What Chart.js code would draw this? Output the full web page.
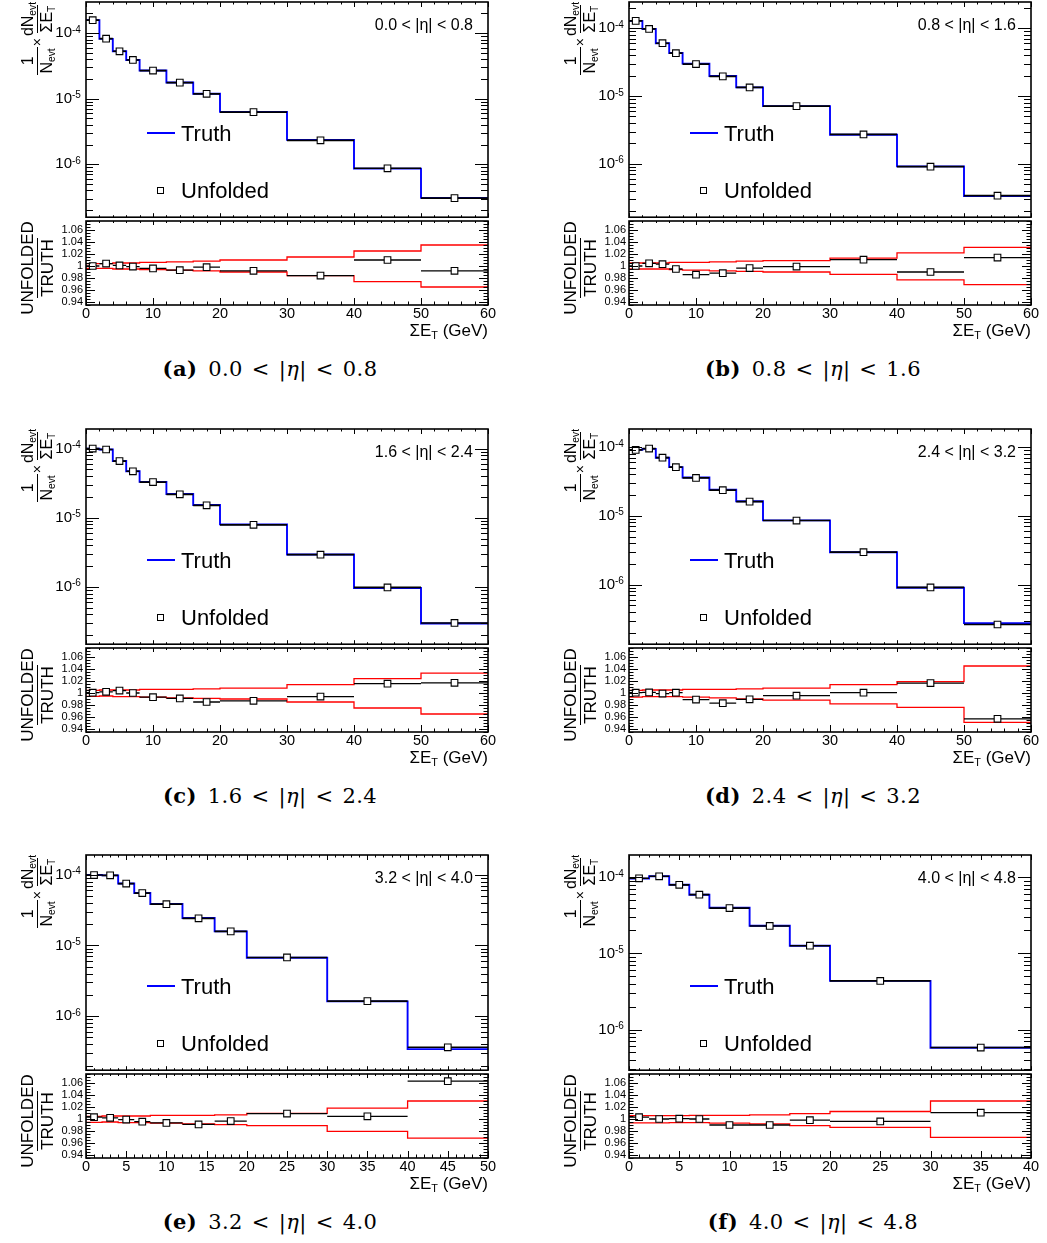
<!DOCTYPE html>
<html>
<head>
<meta charset="utf-8">
<title>Unfolded sum ET spectra</title>
<script src="https://cdn.jsdelivr.net/npm/chart.js@4.4.1/dist/chart.umd.min.js"></script>
<style>
  body { margin: 0; background: #fff; }
  #page { position: relative; width: 1047px; height: 1243px; overflow: hidden; background: #fff;
          font-family: 'Liberation Sans', Arial, Helvetica, sans-serif; color: #000; }
  .txt { position: absolute; white-space: nowrap; line-height: 1; }
  .rot { position: absolute; transform-origin: 0 0; transform: rotate(-90deg); display: flex;
         align-items: center; white-space: nowrap; line-height: 1; }
  .frac { display: inline-flex; flex-direction: column; align-items: center; line-height: 1; }
  .frac > span:first-child { padding: 0 1px 1px; }
  .frac > span:last-child { border-top: 1.5px solid #000; padding: 1px 1px 0; }
  sub { font-size: 0.64em; vertical-align: -0.28em; line-height: 0; }
  .caption { position: absolute; white-space: nowrap; transform: translate(-50%, -50%);
             font-family: 'DejaVu Serif', 'Liberation Serif', serif; font-size: 21px; line-height: 1;
             letter-spacing: 0.4px; }
  .caption .rel { margin: 0 9px; }
</style>
</head>
<body>
<div id="page"></div>
<script>
// bin edges (GeV)
const edges60 = [0, 2, 4, 6, 8, 12, 16, 20, 30, 40, 50, 60];
const edges50 = [0, 2, 4, 6, 8, 12, 16, 20, 30, 40, 50];
const edges40 = [0, 2, 4, 6, 8, 12, 16, 20, 30, 40];

const etaRanges = ['0.0 < |η| < 0.8', '0.8 < |η| < 1.6', '1.6 < |η| < 2.4',
                   '2.4 < |η| < 3.2', '3.2 < |η| < 4.0', '4.0 < |η| < 4.8'];
const panelTags = ['(a)', '(b)', '(c)', '(d)', '(e)', '(f)'];

// 1/Nevt dNevt/dSumET, truth and unfolded
const truthA    = [1.58e-4, 8.2e-5, 5.3e-5, 3.9e-5, 2.7e-5, 1.77e-5, 1.19e-5, 6.3e-6, 2.36e-6, 8.6e-7, 3.07e-7];
const unfoldedA = [1.58e-4, 8.25e-5, 5.3e-5, 3.9e-5, 2.69e-5, 1.76e-5, 1.19e-5, 6.25e-6, 2.32e-6, 8.7e-7, 3.05e-7];
const truthB    = [1.28e-4, 9.7e-5, 6.0e-5, 4.3e-5, 3.0e-5, 1.97e-5, 1.34e-5, 7.1e-6, 2.69e-6, 9.2e-7, 3.35e-7];
const unfoldedB = [1.28e-4, 9.75e-5, 6.0e-5, 4.28e-5, 2.96e-5, 1.95e-5, 1.34e-5, 7.1e-6, 2.72e-6, 9.1e-7, 3.4e-7];
const truthC    = [1.0e-4, 9.7e-5, 6.6e-5, 4.7e-5, 3.3e-5, 2.2e-5, 1.53e-5, 8.0e-6, 2.93e-6, 9.6e-7, 2.95e-7];
const unfoldedC = [1.0e-4, 9.7e-5, 6.6e-5, 4.7e-5, 3.28e-5, 2.18e-5, 1.51e-5, 7.9e-6, 2.92e-6, 9.8e-7, 3.0e-7];
const truthD    = [9.1e-5, 9.4e-5, 7.0e-5, 5.1e-5, 3.6e-5, 2.4e-5, 1.63e-5, 8.6e-6, 2.96e-6, 9.0e-7, 2.75e-7];
const unfoldedD = [9.1e-5, 9.5e-5, 7.0e-5, 5.1e-5, 3.56e-5, 2.36e-5, 1.61e-5, 8.55e-6, 2.96e-6, 9.1e-7, 2.63e-7];
const truthE    = [9.9e-5, 9.8e-5, 7.5e-5, 5.5e-5, 3.85e-5, 2.44e-5, 1.58e-5, 6.7e-6, 1.62e-6, 3.42e-7];
const unfoldedE = [9.9e-5, 9.8e-5, 7.5e-5, 5.5e-5, 3.83e-5, 2.42e-5, 1.58e-5, 6.75e-6, 1.63e-6, 3.63e-7];
const truthF    = [9.6e-5, 1.03e-4, 7.96e-5, 5.9e-5, 3.97e-5, 2.31e-5, 1.26e-5, 4.35e-6, 5.75e-7];
const unfoldedF = [9.7e-5, 1.03e-4, 7.96e-5, 5.9e-5, 3.94e-5, 2.29e-5, 1.26e-5, 4.34e-6, 5.8e-7];

// unfolded / truth
const ratioA = [1.000, 1.004, 1.001, 0.999, 0.996, 0.993, 0.998, 0.992, 0.984, 1.010, 0.992];
const ratioB = [1.000, 1.0045, 1.003, 0.995, 0.9855, 0.988, 0.9965, 0.999, 1.0105, 0.990, 1.014];
const ratioC = [1.0005, 1.002, 1.004, 1.000, 0.993, 0.991, 0.985, 0.987, 0.994, 1.0155, 1.017];
const ratioD = [1.0005, 1.001, 0.999, 1.0005, 0.989, 0.983, 0.9895, 0.9955, 1.0005, 1.0165, 0.957];
const ratioE = [1.003, 1.002, 0.999, 0.9955, 0.9935, 0.991, 0.9965, 1.009, 1.0045, 1.063];
const ratioF = [1.003, 1.000, 1.0005, 1.000, 0.990, 0.990, 0.998, 0.996, 1.0105];

// red uncertainty band, upper and lower edge
const bandHiA = [1.004, 1.004, 1.005, 1.005, 1.006, 1.007, 1.008, 1.010, 1.015, 1.025, 1.035];
const bandLoA = [0.996, 0.996, 0.995, 0.995, 0.994, 0.993, 0.992, 0.990, 0.984, 0.974, 0.965];
const bandHiB = [1.005, 1.005, 1.005, 1.006, 1.006, 1.007, 1.008, 1.009, 1.013, 1.022, 1.031];
const bandLoB = [0.995, 0.995, 0.995, 0.994, 0.993, 0.992, 0.991, 0.990, 0.986, 0.977, 0.969];
const bandHiC = [1.0045, 1.005, 1.005, 1.005, 1.006, 1.006, 1.007, 1.008, 1.014, 1.024, 1.033];
const bandLoC = [0.9945, 0.995, 0.994, 0.994, 0.993, 0.992, 0.991, 0.990, 0.985, 0.975, 0.965];
const bandHiD = [1.0045, 1.005, 1.005, 1.005, 1.006, 1.006, 1.007, 1.008, 1.014, 1.019, 1.045];
const bandLoD = [0.993, 0.994, 0.994, 0.994, 0.993, 0.992, 0.990, 0.988, 0.982, 0.976, 0.951];
const bandHiE = [1.0045, 1.005, 1.005, 1.005, 1.006, 1.006, 1.007, 1.0095, 1.018, 1.030];
const bandLoE = [0.9945, 0.995, 0.994, 0.994, 0.993, 0.992, 0.9905, 0.989, 0.9795, 0.968];
const bandHiF = [1.0055, 1.0055, 1.0055, 1.006, 1.006, 1.007, 1.009, 1.0125, 1.030];
const bandLoF = [0.9935, 0.9935, 0.994, 0.994, 0.993, 0.992, 0.989, 0.986, 0.9695];

// axis ranges and tick labels
const yMinMain = [1.56e-7, 1.64e-7, 1.48e-7, 1.36e-7, 1.72e-7, 2.92e-7];
const yMaxMain = [2.99e-4, 2.43e-4, 1.92e-4, 1.83e-4, 1.90e-4, 1.96e-4];
const mainTickValues = [1e-6, 1e-5, 1e-4];
const mainTickBase = '10';
const mainTickExponents = ['-6', '-5', '-4'];
const ratioTickValues = [0.94, 0.96, 0.98, 1, 1.02, 1.04, 1.06];
const ratioTickLabels = ['0.94', '0.96', '0.98', '1', '1.02', '1.04', '1.06'];
const ratioMin = 0.935, ratioMax = 1.075;
const xMaxList = [60, 60, 60, 60, 50, 40];
const xStepList = [10, 10, 10, 10, 5, 5];
const xMinorList = [2, 2, 2, 2, 1, 1];

const panels = [
  { edges: edges60, truth: truthA, unfolded: unfoldedA, ratio: ratioA, hi: bandHiA, lo: bandLoA },
  { edges: edges60, truth: truthB, unfolded: unfoldedB, ratio: ratioB, hi: bandHiB, lo: bandLoB },
  { edges: edges60, truth: truthC, unfolded: unfoldedC, ratio: ratioC, hi: bandHiC, lo: bandLoC },
  { edges: edges60, truth: truthD, unfolded: unfoldedD, ratio: ratioD, hi: bandHiD, lo: bandLoD },
  { edges: edges50, truth: truthE, unfolded: unfoldedE, ratio: ratioE, hi: bandHiE, lo: bandLoE },
  { edges: edges40, truth: truthF, unfolded: unfoldedF, ratio: ratioF, hi: bandHiF, lo: bandLoF }
];

const FONT = "'Liberation Sans', Arial, Helvetica, sans-serif";
Chart.defaults.font.family = FONT;
Chart.defaults.color = '#000';

const page = document.getElementById('page');
const colLeft = [86, 629];
const rowTop = [2, 429, 855];
const FW = 402, MH = 219, RH = 84, AX = 60, PR = 16, PT = 8;

// histogram helpers
function steps(edges, vals) {
  const pts = vals.map((v, i) => ({ x: edges[i], y: v }));
  pts.push({ x: edges[edges.length - 1], y: vals[vals.length - 1] });
  return pts;
}
function bars(edges, vals) {
  const pts = [];
  vals.forEach((v, i) => {
    pts.push({ x: edges[i], y: v }, { x: edges[i + 1], y: v }, { x: edges[i + 1], y: null });
  });
  return pts;
}
function centres(edges, vals) {
  return vals.map((v, i) => ({ x: (edges[i] + edges[i + 1]) / 2, y: v }));
}

const stepLine = (data, color, width) => ({ data, borderColor: color, borderWidth: width, stepped: 'before', pointRadius: 0, fill: false });
const barLine = (data, width) => ({ data, borderColor: '#000', borderWidth: width, pointRadius: 0, fill: false, spanGaps: false });
const markers = data => ({ data, showLine: false, pointStyle: 'rect', pointRadius: 4.7,
  pointBorderColor: '#000', pointBackgroundColor: '#fff', pointBorderWidth: 1.1 });

// ROOT style frame with inward ticks on all four sides (+ exponents of log labels)
const rootFrame = {
  id: 'rootFrame',
  afterDatasetsDraw(chart, args, o) {
    const { ctx, chartArea: a } = chart;
    const xs = chart.scales.x, ys = chart.scales.y;
    ctx.save();
    ctx.strokeStyle = '#000';
    ctx.lineWidth = 1;
    ctx.beginPath();
    const n = Math.round(xs.max / o.xMinor);
    for (let k = 0; k <= n; k++) {
      const v = k * o.xMinor;
      const major = (v % o.xMajor) === 0;
      const px = Math.round(xs.getPixelForValue(v)) + 0.5;
      ctx.moveTo(px, a.bottom); ctx.lineTo(px, a.bottom - (major ? o.lenBottom[0] : o.lenBottom[1]));
      ctx.moveTo(px, a.top); ctx.lineTo(px, a.top + (major ? o.lenTop[0] : o.lenTop[1]));
    }
    for (const t of o.yTicks) {
      const py = Math.round(ys.getPixelForValue(t.v)) + 0.5;
      ctx.moveTo(a.left, py); ctx.lineTo(a.left + t.len, py);
      ctx.moveTo(a.right, py); ctx.lineTo(a.right - t.len, py);
    }
    ctx.stroke();
    ctx.lineWidth = 1.6;
    ctx.strokeRect(a.left, a.top, a.right - a.left, a.bottom - a.top);
    if (o.exponents) {
      ctx.fillStyle = '#000';
      ctx.font = '10px ' + FONT;
      ctx.textAlign = 'left';
      ctx.textBaseline = 'alphabetic';
      o.exponents.forEach((e, k) => {
        ctx.fillText(e, a.left - 14, ys.getPixelForValue(mainTickValues[k]) - 0.5);
      });
    }
    ctx.restore();
  }
};

function logTicks(min, max) {
  const out = [];
  for (let e = Math.floor(Math.log10(min)); e <= Math.ceil(Math.log10(max)); e++) {
    for (let k = 1; k <= 9; k++) {
      const v = k * Math.pow(10, e);
      if (v >= min && v <= max) out.push({ v, len: k === 1 ? 13 : 7 });
    }
  }
  return out;
}
function ratioTicks() {
  const out = [];
  for (let k = Math.ceil(ratioMin / 0.005); k * 0.005 <= ratioMax; k++) {
    out.push({ v: k * 0.005, len: k % 4 === 0 ? 9 : 4.5 });
  }
  return out;
}

function canvasAt(left, top, w, h) {
  const c = document.createElement('canvas');
  c.width = w; c.height = h;
  c.style.cssText = `position:absolute;left:${left}px;top:${top}px;width:${w}px;height:${h}px`;
  page.appendChild(c);
  return c;
}

function txt(html, css) {
  const d = document.createElement('div');
  d.className = 'txt';
  d.innerHTML = html;
  Object.assign(d.style, css);
  page.appendChild(d);
  return d;
}

panels.forEach((p, i) => {
  const fl = colLeft[i % 2], ft = rowTop[Math.floor(i / 2)];
  const split = ft + MH, fb = split + RH;
  const xMax = xMaxList[i];

  // upper pad: spectra
  new Chart(canvasAt(fl - AX, ft - PT, AX + FW + PR, PT + MH + 2), {
    type: 'line',
    data: { datasets: [
      markers(centres(p.edges, p.unfolded)),
      barLine(bars(p.edges, p.unfolded), 1.7),
      stepLine(steps(p.edges, p.truth), '#0000ff', 1.9)
    ] },
    options: {
      responsive: false, animation: false, events: [],
      layout: { padding: { top: PT, right: PR, bottom: 2, left: 0 } },
      scales: {
        x: { type: 'linear', min: 0, max: xMax, display: false },
        y: {
          type: 'logarithmic', min: yMinMain[i], max: yMaxMain[i],
          afterFit: s => { s.width = AX; s.paddingTop = 0; s.paddingBottom = 0; },
          afterBuildTicks: s => { s.ticks = mainTickValues.map(v => ({ value: v })); },
          ticks: { autoSkip: false, padding: 14, color: '#000', font: { size: 15 },
                   callback: () => mainTickBase },
          grid: { display: false, drawTicks: false }, border: { display: false }
        }
      },
      plugins: {
        legend: { display: false }, tooltip: { enabled: false },
        rootFrame: { xMajor: xStepList[i], xMinor: xMinorList[i], lenBottom: [4, 2], lenTop: [5, 2.5],
                     yTicks: logTicks(yMinMain[i], yMaxMain[i]), exponents: mainTickExponents }
      }
    },
    plugins: [rootFrame]
  });

  // lower pad: ratio
  new Chart(canvasAt(fl - AX, split - PT, AX + FW + PR, PT + RH + 26), {
    type: 'line',
    data: { datasets: [
      markers(centres(p.edges, p.ratio)),
      barLine(bars(p.edges, p.ratio), 1.3),
      stepLine(steps(p.edges, p.hi), '#ff0000', 1.3),
      stepLine(steps(p.edges, p.lo), '#ff0000', 1.3)
    ] },
    options: {
      responsive: false, animation: false, events: [],
      layout: { padding: { top: PT, right: PR, bottom: 0, left: 0 } },
      scales: {
        x: {
          type: 'linear', min: 0, max: xMax,
          afterFit: s => { s.height = 26; s.paddingLeft = 0; s.paddingRight = 0; },
          ticks: { stepSize: xStepList[i], autoSkip: false, maxRotation: 0, padding: 0,
                   color: '#000', font: { size: 14.5 }, callback: v => String(v) },
          grid: { display: false, drawTicks: false }, border: { display: false }
        },
        y: {
          type: 'linear', min: ratioMin, max: ratioMax,
          afterFit: s => { s.width = AX; s.paddingTop = 0; s.paddingBottom = 0; },
          afterBuildTicks: s => { s.ticks = ratioTickValues.map(v => ({ value: v })); },
          ticks: { autoSkip: false, padding: 3, color: '#000', font: { size: 11 },
                   callback: v => ratioTickLabels[ratioTickValues.indexOf(v)] },
          grid: { display: false, drawTicks: false }, border: { display: false }
        }
      },
      plugins: {
        legend: { display: false }, tooltip: { enabled: false },
        rootFrame: { xMajor: xStepList[i], xMinor: xMinorList[i], lenBottom: [7, 3.5], lenTop: [4, 2],
                     yTicks: ratioTicks() }
      }
    },
    plugins: [rootFrame]
  });

  // eta range label
  txt(etaRanges[i], { right: (1047 - (fl + FW - 15)) + 'px', top: (ft + 23) + 'px',
                      transform: 'translateY(-50%)', fontSize: '16px' });

  // legend
  const ln = document.createElement('div');
  ln.style.cssText = `position:absolute;left:${fl + 61}px;top:${ft + 130}px;width:28px;height:2px;background:#0000ff`;
  page.appendChild(ln);
  txt('Truth', { left: (fl + 95) + 'px', top: (ft + 131.5) + 'px', transform: 'translateY(-50%)', fontSize: '22px' });
  const mk = document.createElement('div');
  mk.style.cssText = `position:absolute;left:${fl + 70.5}px;top:${ft + 185}px;width:7px;height:7px;border:1px solid #000;box-sizing:border-box`;
  page.appendChild(mk);
  txt('Unfolded', { left: (fl + 95) + 'px', top: (ft + 189) + 'px', transform: 'translateY(-50%)', fontSize: '22px' });

  // axis titles
  txt('ΣE<sub>T</sub> (GeV)', { right: (1047 - (fl + FW)) + 'px', top: (fb + 25) + 'px',
                                transform: 'translateY(-50%)', fontSize: '17px' });

  const yt = document.createElement('div');
  yt.className = 'rot';
  yt.style.cssText += `left:${fl - 68}px;top:${ft - 1 + 120}px;width:120px;height:38px;justify-content:flex-end;font-size:16px`;
  yt.innerHTML = '<span class="frac"><span>1</span><span>N<sub>evt</sub></span></span>' +
                 '<span style="font-size:14px;margin:0 1px">×</span>' +
                 '<span class="frac"><span>dN<sub>evt</sub></span><span>ΣE<sub>T</sub></span></span>';
  page.appendChild(yt);

  const rt = document.createElement('div');
  rt.className = 'rot';
  rt.style.cssText += `left:${fl - 66}px;top:${split + 47 + 60}px;width:120px;height:34px;justify-content:center;font-size:17px`;
  rt.innerHTML = '<span class="frac"><span>UNFOLDED</span><span>TRUTH</span></span>';
  page.appendChild(rt);

  // caption
  const [lo, hi] = etaRanges[i].split(' < |η| < ');
  const cap = document.createElement('div');
  cap.className = 'caption';
  cap.style.left = (fl + 184) + 'px';
  cap.style.top = (fb + 64) + 'px';
  cap.innerHTML = `<b>${panelTags[i]}</b><span style="margin-left:11px">${lo}</span><span class="rel">&lt;</span>|<i>η</i>|<span class="rel">&lt;</span>${hi}`;
  page.appendChild(cap);
});
</script>
</body>
</html>
